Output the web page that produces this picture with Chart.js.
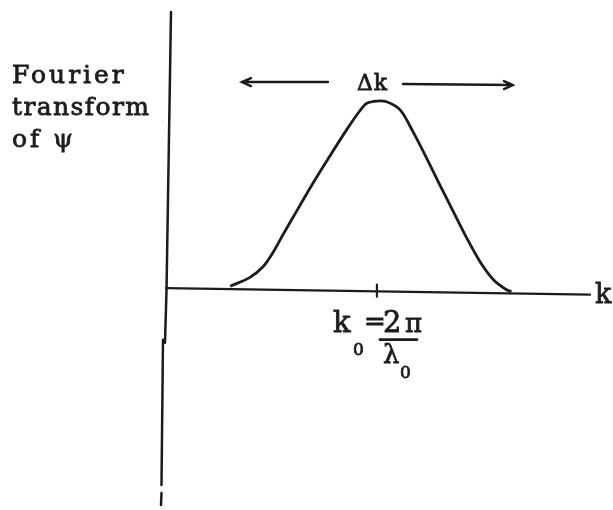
<!DOCTYPE html>
<html>
<head>
<meta charset="utf-8">
<script src="https://cdn.jsdelivr.net/npm/chart.js@4"></script>
<style>
  html, body { margin: 0; padding: 0; background: #fff; }
  canvas { display: block; }
</style>
</head>
<body>
<canvas id="myChart" width="613" height="510"></canvas>
<script>
// wave number k (k0 sits at 5) and the transform amplitude (peak = 1)
const kValues = [1.52, 1.99, 2.31, 2.54, 2.78, 3.10, 3.49, 3.89, 4.28, 4.60, 4.76, 5.00, 5.23, 5.55, 5.86, 6.18, 6.49, 6.81, 7.13, 7.44, 7.76, 8.07, 8.19];
const amplitude = [0.023, 0.070, 0.129, 0.203, 0.298, 0.421, 0.569, 0.712, 0.848, 0.950, 0.988, 1.0, 0.996, 0.953, 0.836, 0.698, 0.558, 0.417, 0.277, 0.154, 0.058, 0.005, -0.004];
const k0 = 5;
const kRange = [0, 10.05];
const ampRange = [-1.13, 1.48];

const ink = '#1c1c1c';
const face = '"DejaVu Serif", serif';

const points = [];
for (let i = 0; i < kValues.length; i++) {
  points.push({ x: kValues[i], y: amplitude[i] });
}

// typewriter-ish text: fill plus a thin stroke to thicken it up
function label(c, text, px, py, size, spacing) {
  c.font = size + 'px ' + face;
  c.letterSpacing = (spacing || 0) + 'px';
  c.lineWidth = 0.8;
  c.fillText(text, px, py);
  c.strokeText(text, px, py);
}

// hand drawn axes, the k0 tick, arrows and labels
const sketch = {
  id: 'sketch',
  beforeDatasetsDraw(chart) {
    const c = chart.ctx;
    const x = chart.scales.x, y = chart.scales.y;
    const x0 = x.getPixelForValue(0);
    const y0 = y.getPixelForValue(0);
    const top = y.getPixelForValue(ampRange[1]);
    const bottom = y.getPixelForValue(ampRange[0]);
    c.save();
    c.strokeStyle = ink;
    c.lineCap = 'round';
    c.lineWidth = 2.5;

    // vertical axis, leaning a little to the left going down
    c.beginPath();
    c.moveTo(x0 + 5, top + 2);
    c.lineTo(x0 + 0.5, y0);
    c.lineTo(x0 - 1, y0 + 52);
    c.moveTo(x0 - 3, y0 + 49);
    c.lineTo(x0 - 4.5, bottom - 20);
    c.moveTo(x0 - 4.5, bottom - 12);
    c.lineTo(x0 - 5, bottom);
    c.stroke();

    // k axis, drifting slightly downward to the right
    c.lineWidth = 2.2;
    c.beginPath();
    c.moveTo(x0, y0 - 2.5);
    c.lineTo(x.getPixelForValue(kRange[1]), y0 + 4);
    c.stroke();

    // tick at k0
    const xk = x.getPixelForValue(k0);
    c.beginPath();
    c.moveTo(xk, y0 - 6);
    c.lineTo(xk, y0 + 6);
    c.stroke();
    c.restore();
  },
  afterDraw(chart) {
    const c = chart.ctx;
    const x = chart.scales.x, y = chart.scales.y;
    const xk = x.getPixelForValue(k0);
    const y0 = y.getPixelForValue(0);
    const yPeak = y.getPixelForValue(1);
    c.save();
    c.fillStyle = ink;
    c.strokeStyle = ink;
    c.textBaseline = 'alphabetic';

    // y axis title
    label(c, 'Fourier', 12, 83, 25, 3);
    label(c, 'transform', 12, 115, 25, 1.4);
    label(c, 'of ψ', 12, 147, 25, 3);

    // width marker above the peak
    label(c, 'Δk', xk - 20, yPeak - 11, 22, 1);
    c.lineWidth = 2.4;
    c.lineCap = 'round';
    const ya = yPeak - 19, yb = yPeak - 16;
    c.beginPath();
    c.moveTo(xk - 49, ya);
    c.lineTo(xk - 135, ya);
    c.moveTo(xk - 126, ya - 4);
    c.lineTo(xk - 135, ya);
    c.lineTo(xk - 126, ya + 4);
    c.moveTo(xk + 26, yb - 1);
    c.lineTo(xk + 136, yb);
    c.moveTo(xk + 127, yb - 4);
    c.lineTo(xk + 136, yb);
    c.lineTo(xk + 127, yb + 4);
    c.stroke();

    // k0 = 2π / λ0 under the tick
    label(c, 'k', xk - 44, y0 + 41, 29);
    label(c, '=', xk - 13, y0 + 39, 26);
    label(c, '2', xk + 6, y0 + 41, 29);
    label(c, 'π', xk + 28, y0 + 41, 26);
    label(c, 'λ', xk + 6, y0 + 72, 26);
    label(c, '0', xk - 24, y0 + 64, 17);
    label(c, '0', xk + 23, y0 + 87, 17);
    c.lineWidth = 2.8;
    c.beginPath();
    c.moveTo(xk + 3, y0 + 49);
    c.lineTo(xk + 40, y0 + 49);
    c.stroke();

    // axis name at the end of the k axis
    label(c, 'k', x.getPixelForValue(kRange[1]) + 5, y0 + 12, 27);
    c.restore();
  }
};

new Chart(document.getElementById('myChart'), {
  type: 'scatter',
  data: {
    datasets: [{
      label: 'Fourier transform of ψ',
      data: points,
      showLine: true,
      borderColor: ink,
      borderWidth: 2.8,
      pointRadius: 0,
      tension: 0.3
    }]
  },
  options: {
    responsive: false,
    animation: false,
    devicePixelRatio: 1,
    layout: { padding: { left: 166, right: 23, top: 10, bottom: 5 } },
    scales: {
      x: { type: 'linear', min: kRange[0], max: kRange[1], display: false },
      y: { type: 'linear', min: ampRange[0], max: ampRange[1], display: false }
    },
    plugins: {
      legend: { display: false },
      tooltip: { enabled: false }
    }
  },
  plugins: [sketch]
});
</script>
</body>
</html>
